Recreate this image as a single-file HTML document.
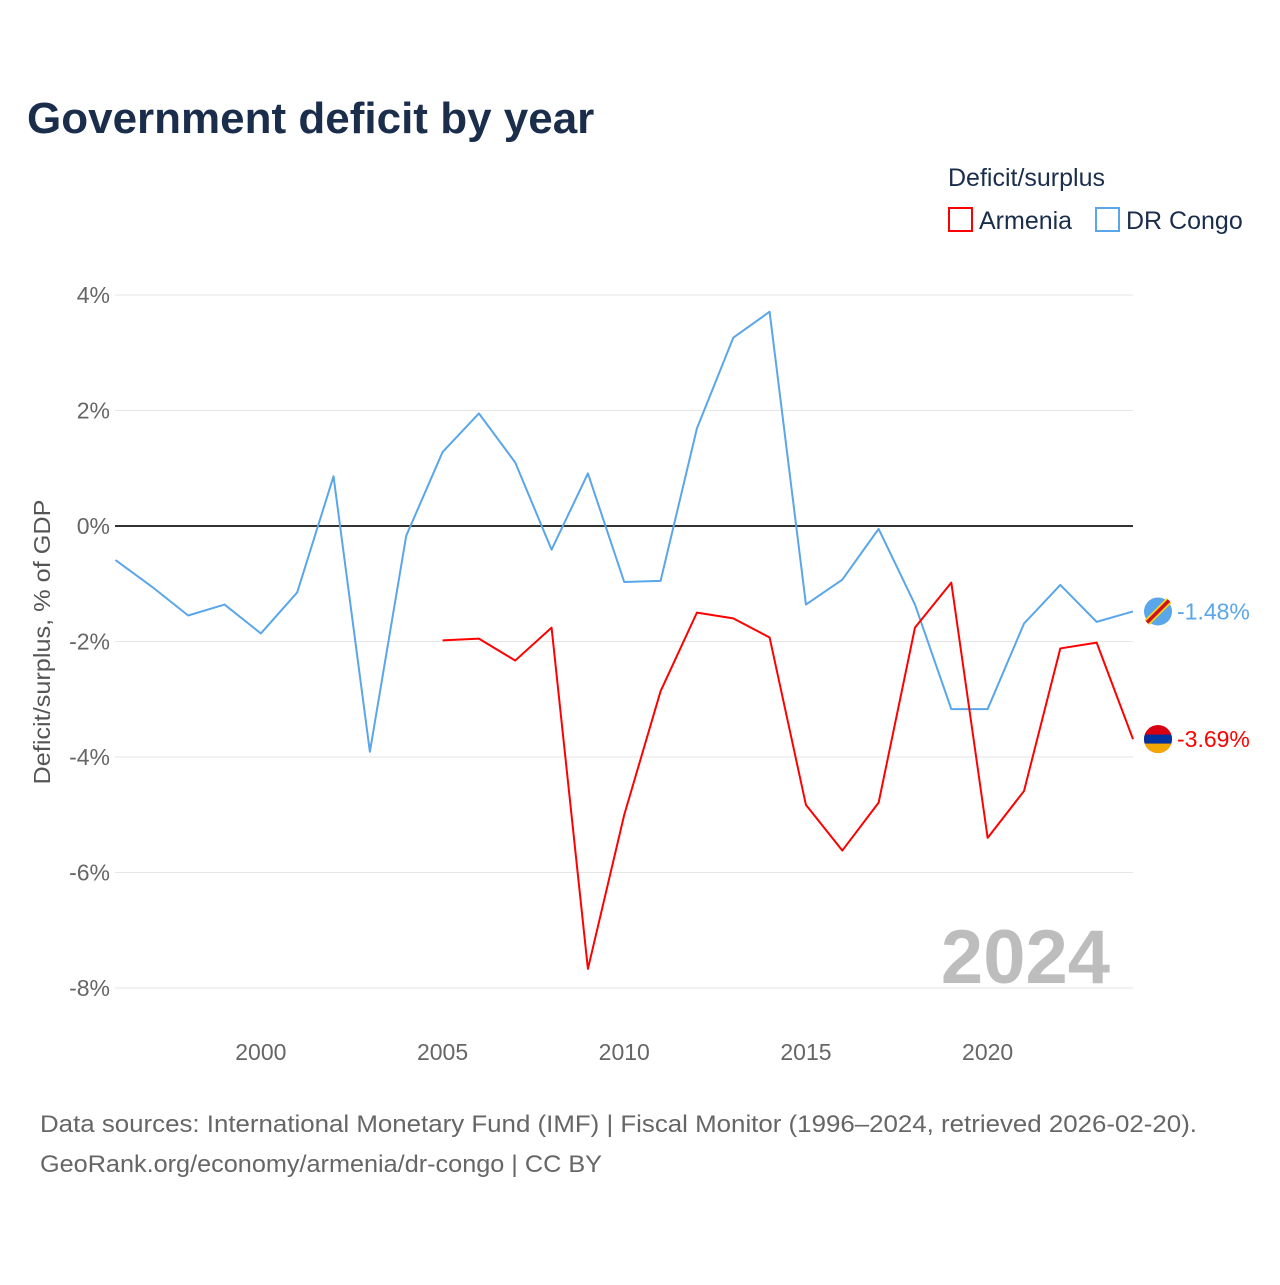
<!DOCTYPE html>
<html><head><meta charset="utf-8">
<style>
body{margin:0;background:#fff;font-family:"Liberation Sans",sans-serif;}
svg text{font-family:"Liberation Sans",sans-serif;}
</style></head>
<body>
<svg id="chart" width="1280" height="1280" viewBox="0 0 1280 1280">
<text x="27" y="133" font-size="44" font-weight="bold" fill="#1a2e4c">Government deficit by year</text>
<text x="948" y="186" font-size="25" fill="#1a2e4c">Deficit/surplus</text>
<g><rect x="949" y="208" width="23" height="23" fill="none" stroke="#f00" stroke-width="2"/><text x="979" y="229" font-size="25" fill="#1a2e4c">Armenia</text></g>
<g><rect x="1096" y="208" width="23" height="23" fill="none" stroke="#5aa6ea" stroke-width="2"/><text x="1126" y="229" font-size="25" fill="#1a2e4c">DR Congo</text></g>
<g id="grid"></g>
<g id="series"></g>
<text x="1110" y="983" font-size="76" font-weight="bold" fill="#bdbdbd" text-anchor="end">2024</text>
<text transform="translate(50,642) rotate(-90)" font-size="23" fill="#555" text-anchor="middle" textLength="285" lengthAdjust="spacingAndGlyphs">Deficit/surplus, % of GDP</text>
<text x="40" y="1132" font-size="24" fill="#666" textLength="1157" lengthAdjust="spacingAndGlyphs">Data sources: International Monetary Fund (IMF) | Fiscal Monitor (1996–2024, retrieved 2026-02-20).</text>
<text x="40" y="1172" font-size="24" fill="#666" textLength="562" lengthAdjust="spacingAndGlyphs">GeoRank.org/economy/armenia/dr-congo | CC BY</text>
</svg>
<script>
const years=[1996,1997,1998,1999,2000,2001,2002,2003,2004,2005,2006,2007,2008,2009,2010,2011,2012,2013,2014,2015,2016,2017,2018,2019,2020,2021,2022,2023,2024];
const congo=[-0.59,-1.05,-1.55,-1.36,-1.86,-1.15,0.86,-3.91,-0.17,1.28,1.95,1.10,-0.41,0.91,-0.97,-0.95,1.69,3.26,3.71,-1.36,-0.93,-0.05,-1.36,-3.17,-3.17,-1.69,-1.02,-1.66,-1.48];
const armenia=[null,null,null,null,null,null,null,null,null,-1.98,-1.95,-2.33,-1.76,-7.67,-5.0,-2.86,-1.50,-1.60,-1.93,-4.83,-5.62,-4.79,-1.76,-0.98,-5.40,-4.59,-2.12,-2.02,-3.69];
const yTicks=[4,2,0,-2,-4,-6,-8];
const xTicks=[2000,2005,2010,2015,2020];
const NS="http://www.w3.org/2000/svg";
const X=y=>115.5+(y-1996)*(1133-115.5)/28;
const Y=v=>526-v*57.75;
function mk(t,a,p){const e=document.createElementNS(NS,t);for(const k in a)e.setAttribute(k,a[k]);p.appendChild(e);return e;}
const grid=document.getElementById('grid');
yTicks.forEach(v=>{
 const l=mk('line',{x1:115,x2:1133,y1:Y(v),y2:Y(v),stroke:v===0?'#333':'#e6e6e6','stroke-width':v===0?2:1},grid);
 
 
 const t=mk('text',{x:110,y:Y(v)+8,'font-size':23,fill:'#666','text-anchor':'end'},grid);
 t.textContent=v+'%';
 
 
});
xTicks.forEach(y=>{
 const t=mk('text',{x:X(y),y:1060,'font-size':23,fill:'#666','text-anchor':'middle'},grid);
 t.textContent=y;
 
 
});
const s=document.getElementById('series');
function line(vals,col,name){
 let d='';vals.forEach((v,i)=>{if(v===null)return;d+=(d?'L':'M')+X(years[i])+','+Y(v);});
 const p=mk('path',{d:d,fill:'none',stroke:col,'stroke-width':2,'stroke-linejoin':'round'},s);
 
 
 const last=vals[vals.length-1];
 const c=mk('circle',{cx:1158,cy:Y(last),r:14,fill:col},s);
 
 
 const t=mk('text',{x:1177,y:Y(last)+8,'font-size':23,fill:col},s);
 t.textContent=last.toFixed(2)+'%';
 
 
 return c;
}
line(congo,'#5aa6ea','dr-congo');
line(armenia,'#f00','armenia');
const ay=Y(armenia[armenia.length-1]);
const fl=mk('g',{},s);


const cp=mk('clipPath',{id:'ac'},fl);
mk('circle',{cx:1158,cy:ay,r:14},cp);
mk('rect',{x:1144,y:ay-14,width:28,height:10,fill:'#d90012','clip-path':'url(#ac)'},fl);
mk('rect',{x:1144,y:ay-4.5,width:28,height:9,fill:'#0033a0','clip-path':'url(#ac)'},fl);
mk('rect',{x:1144,y:ay+4.5,width:28,height:10,fill:'#f2a800','clip-path':'url(#ac)'},fl);
const cy=Y(congo[congo.length-1]);
const cf=mk('line',{x1:1147,y1:cy+11,x2:1169,y2:cy-11,stroke:'#f7d618','stroke-width':7},s);


mk('line',{x1:1147,y1:cy+11,x2:1169,y2:cy-11,stroke:'#ce1021','stroke-width':3.5},s);
</script>
</body></html>
